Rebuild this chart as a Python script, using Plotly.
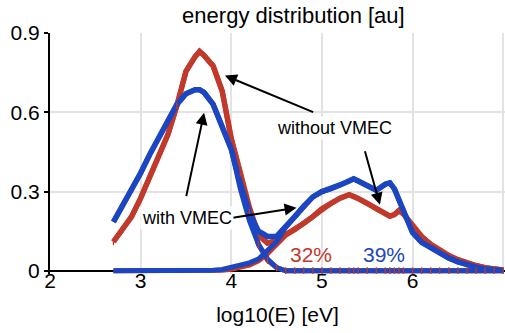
import plotly.graph_objects as go

# ---- data ----
log_e = [2.7, 2.8, 2.9, 3.0, 3.1, 3.2, 3.3, 3.4, 3.5, 3.6, 3.65, 3.7, 3.8, 3.9, 4.0, 4.1,
         4.2, 4.3, 4.4, 4.5, 4.6, 4.7, 4.8, 4.9, 5.0, 5.1, 5.2, 5.3, 5.35, 5.4, 5.5, 5.6,
         5.7, 5.75, 5.8, 5.85, 5.9, 6.0, 6.1, 6.2, 6.3, 6.4, 6.5, 6.6, 6.7, 6.8, 6.9, 7.0]

# without VMEC (red)
red_total = [0.11, 0.155, 0.205, 0.275, 0.355, 0.435, 0.515, 0.625, 0.755, 0.81, 0.83, 0.815,
             0.775, 0.68, 0.50, 0.37, 0.24, 0.135, 0.105, 0.115, 0.135, 0.155, 0.18, 0.205,
             0.235, 0.255, 0.275, 0.288, 0.282, 0.274, 0.255, 0.235, 0.215, 0.207, 0.213,
             0.228, 0.215, 0.175, 0.13, 0.10, 0.078, 0.058, 0.042, 0.03, 0.02, 0.012, 0.006, 0.003]
red_thermal = [0.11, 0.155, 0.205, 0.275, 0.355, 0.435, 0.515, 0.625, 0.755, 0.81, 0.83, 0.815,
               0.775, 0.68, 0.50, 0.37, 0.22, 0.10, 0.04, 0.012, 0.0, 0.0, 0.0, 0.0,
               0.0, 0.0, 0.0, 0.0, 0.0, 0.0, 0.0, 0.0, 0.0, 0.0, 0.0,
               0.0, 0.0, 0.0, 0.0, 0.0, 0.0, 0.0, 0.0, 0.0, 0.0, 0.0, 0.0, 0.0]
red_fast = [0.0, 0.0, 0.0, 0.0, 0.0, 0.0, 0.0, 0.0, 0.0, 0.0, 0.0, 0.0,
            0.0, 0.002, 0.006, 0.012, 0.022, 0.038, 0.065, 0.10, 0.135, 0.155, 0.18, 0.205,
            0.235, 0.255, 0.275, 0.288, 0.282, 0.274, 0.255, 0.235, 0.215, 0.207, 0.213,
            0.228, 0.215, 0.175, 0.13, 0.10, 0.078, 0.058, 0.042, 0.03, 0.02, 0.012, 0.006, 0.003]

# with VMEC (blue)
blue_total = [0.185, 0.245, 0.31, 0.37, 0.44, 0.505, 0.57, 0.63, 0.67, 0.685, 0.685, 0.675,
              0.63, 0.55, 0.46, 0.33, 0.22, 0.15, 0.13, 0.13, 0.165, 0.205, 0.245, 0.28,
              0.30, 0.31, 0.325, 0.34, 0.348, 0.34, 0.32, 0.305, 0.328, 0.333, 0.31,
              0.27, 0.225, 0.145, 0.108, 0.088, 0.065, 0.048, 0.034, 0.022, 0.014, 0.007, 0.003, 0.001]
blue_thermal = [0.185, 0.245, 0.31, 0.37, 0.44, 0.505, 0.57, 0.63, 0.67, 0.685, 0.685, 0.675,
                0.63, 0.55, 0.46, 0.31, 0.19, 0.10, 0.045, 0.012, 0.0, 0.0, 0.0, 0.0,
                0.0, 0.0, 0.0, 0.0, 0.0, 0.0, 0.0, 0.0, 0.0, 0.0, 0.0,
                0.0, 0.0, 0.0, 0.0, 0.0, 0.0, 0.0, 0.0, 0.0, 0.0, 0.0, 0.0, 0.0]
blue_fast = [0.0, 0.0, 0.0, 0.0, 0.0, 0.0, 0.0, 0.0, 0.0, 0.0, 0.0, 0.0,
             0.002, 0.005, 0.012, 0.02, 0.03, 0.045, 0.075, 0.11, 0.165, 0.205, 0.245, 0.28,
             0.30, 0.31, 0.325, 0.34, 0.348, 0.34, 0.32, 0.305, 0.328, 0.333, 0.31,
             0.27, 0.225, 0.145, 0.108, 0.088, 0.065, 0.048, 0.034, 0.022, 0.014, 0.007, 0.003, 0.001]

x_ticks = [2, 3, 4, 5, 6, 7]
y_ticks = [0, 0.3, 0.6, 0.9]
y_tick_labels = ["0", "0.3", "0.6", "0.9"]

RED = "#c0392b"
BLUE = "#1c45c2"
FONT = "Liberation Sans, Arial, sans-serif"

fig = go.Figure()

def add_line(y, color, width):
    fig.add_trace(go.Scatter(x=log_e, y=y, mode="lines",
                             line=dict(color=color, width=width),
                             hoverinfo="skip", showlegend=False))

add_line(red_thermal, RED, 5)
add_line(red_fast, RED, 5)
add_line(red_total, RED, 5.5)
add_line(blue_thermal, BLUE, 5)
add_line(blue_fast, BLUE, 5)
add_line(blue_total, BLUE, 5.5)

# red tick-marks that show through the blue line along zero
fig.add_trace(go.Scatter(x=log_e, y=red_thermal, mode="markers",
                         marker=dict(symbol="line-ns", size=5,
                                     line=dict(color=RED, width=1.3)),
                         hoverinfo="skip", showlegend=False))

ann_font = dict(family=FONT, size=18, color="black")
arrow = dict(showarrow=True, arrowhead=2, arrowsize=1.2, arrowwidth=2,
             arrowcolor="black", axref="x", ayref="y", text="")

fig.add_annotation(x=3.93, y=0.739, ax=4.92, ay=0.598, **arrow)
fig.add_annotation(x=5.64, y=0.25, ax=5.47, ay=0.458, **arrow)
fig.add_annotation(x=3.70, y=0.598, ax=3.50, ay=0.277, **arrow)
fig.add_annotation(x=4.72, y=0.239, ax=4.00, ay=0.20, **arrow)

fig.add_annotation(x=5.14, y=0.54, text="without VMEC", showarrow=False,
                   font=ann_font, bgcolor="white")
fig.add_annotation(x=3.51, y=0.2, text="with VMEC", showarrow=False,
                   font=ann_font, bgcolor="white")
fig.add_annotation(x=4.88, y=0.06, text="32%", showarrow=False,
                   font=dict(family=FONT, size=21, color=RED))
fig.add_annotation(x=5.69, y=0.06, text="39%", showarrow=False,
                   font=dict(family=FONT, size=21, color=BLUE))

fig.update_layout(
    width=505, height=333,
    margin=dict(l=50, r=0, t=33, b=59),
    paper_bgcolor="white", plot_bgcolor="white",
    font=dict(family=FONT, size=21, color="black"),
    title=dict(text="energy distribution [au]", x=0.581, xanchor="center",
               y=0.955, yanchor="middle", font=dict(family=FONT, size=22, color="black")),
    xaxis=dict(range=[2, 7.02], tickvals=x_ticks, ticktext=[str(v) for v in x_ticks],
               showgrid=True, gridcolor="#e3e3e3", gridwidth=2,
               showline=False, zeroline=False, ticks="", ticklabelstandoff=-8,
               title=dict(text="log10(E) [eV]", standoff=16, font=dict(size=21))),
    yaxis=dict(range=[-0.012, 0.9], tickvals=y_ticks, ticktext=y_tick_labels,
               showgrid=True, gridcolor="#e3e3e3", gridwidth=2,
               showline=True, linecolor="black", linewidth=2,
               zeroline=True, zerolinecolor="black", zerolinewidth=2,
               ticks="outside", ticklen=4, tickcolor="black", tickwidth=2),
)

fig.write_html("out.html")
